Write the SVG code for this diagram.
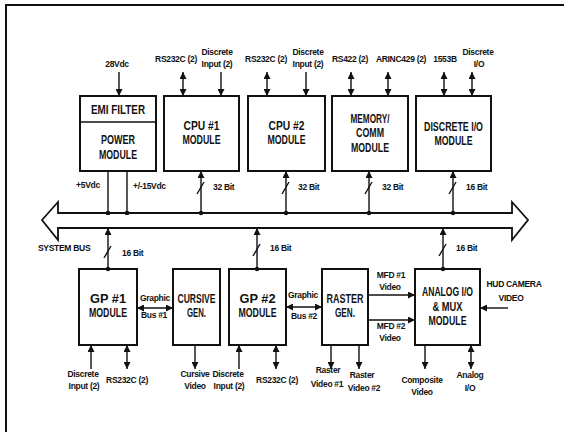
<svg xmlns="http://www.w3.org/2000/svg" width="564" height="432" viewBox="0 0 564 432">
<defs>
<marker id="ah" viewBox="0 0 8 8" refX="8" refY="4" markerWidth="7" markerHeight="7" markerUnits="userSpaceOnUse" orient="auto-start-reverse">
<path d="M0,0 L8,4 L0,8 z" fill="#111"/>
</marker>
<marker id="dot" viewBox="0 0 6 6" refX="3" refY="3" markerWidth="4.5" markerHeight="4.5" markerUnits="userSpaceOnUse">
<circle cx="3" cy="3" r="3" fill="#111"/>
</marker>
<style>
.box{fill:#fff;stroke:#111;stroke-width:2}
.ln{fill:none;stroke:#111;stroke-width:1.4}
.a{marker-end:url(#ah)}
.b{marker-start:url(#ah);marker-end:url(#ah)}
.d{marker-end:url(#dot)}
text{font-family:"Liberation Sans Narrow","Arial Narrow","Liberation Sans",sans-serif;font-weight:bold;fill:#111}
.t{font-size:12.5px;text-anchor:middle}
.s{font-size:8.5px;text-anchor:middle;letter-spacing:-0.3px}
.sl{font-size:8.5px;letter-spacing:-0.3px}
</style>
</defs>
<rect width="564" height="432" fill="#fff"/>
<path d="M6,432 V5 H564" fill="none" stroke="#111" stroke-width="2"/>

<g id="system-bus">
<polygon points="42,220 58,202 58,213 512,213 512,202 528,220 512,240 512,228 58,228 58,240" fill="#fff" stroke="#111" stroke-width="1.8"/>
<text class="sl" x="38" y="251">SYSTEM BUS</text>
</g>

<g id="power-module">
<rect class="box" x="80" y="96" width="76" height="75"/>
<line x1="80" y1="122" x2="156" y2="122" stroke="#111" stroke-width="1.5"/>
<text class="t" x="118" y="114" textLength="54" lengthAdjust="spacingAndGlyphs">EMI FILTER</text>
<text class="t" x="118" y="144" textLength="34" lengthAdjust="spacingAndGlyphs">POWER</text>
<text class="t" x="118" y="159" textLength="38" lengthAdjust="spacingAndGlyphs">MODULE</text>
</g>
<g id="cpu1">
<rect class="box" x="164" y="96" width="75" height="75"/>
<text class="t" x="201.5" y="130" textLength="36" lengthAdjust="spacingAndGlyphs">CPU #1</text>
<text class="t" x="201.5" y="144" textLength="38" lengthAdjust="spacingAndGlyphs">MODULE</text>
</g>
<g id="cpu2">
<rect class="box" x="248" y="96" width="77" height="75"/>
<text class="t" x="286.5" y="130" textLength="36" lengthAdjust="spacingAndGlyphs">CPU #2</text>
<text class="t" x="286.5" y="144" textLength="38" lengthAdjust="spacingAndGlyphs">MODULE</text>
</g>
<g id="memory-comm">
<rect class="box" x="332" y="96" width="76" height="75"/>
<text class="t" x="370" y="123" textLength="39" lengthAdjust="spacingAndGlyphs">MEMORY/</text>
<text class="t" x="370" y="137" textLength="28" lengthAdjust="spacingAndGlyphs">COMM</text>
<text class="t" x="370" y="152" textLength="38" lengthAdjust="spacingAndGlyphs">MODULE</text>
</g>
<g id="discrete-io">
<rect class="box" x="416" y="96" width="75" height="75"/>
<text class="t" x="453.5" y="131" textLength="59" lengthAdjust="spacingAndGlyphs">DISCRETE I/O</text>
<text class="t" x="453.5" y="145" textLength="38" lengthAdjust="spacingAndGlyphs">MODULE</text>
</g>

<g id="gp1">
<rect class="box" x="79" y="269" width="58" height="76"/>
<text class="t" x="108" y="303" textLength="36" lengthAdjust="spacingAndGlyphs">GP #1</text>
<text class="t" x="108" y="317" textLength="38" lengthAdjust="spacingAndGlyphs">MODULE</text>
</g>
<g id="cursive-gen">
<rect class="box" x="173" y="269" width="47" height="76"/>
<text class="t" x="196.5" y="303" textLength="38" lengthAdjust="spacingAndGlyphs">CURSIVE</text>
<text class="t" x="196.5" y="317" textLength="19" lengthAdjust="spacingAndGlyphs">GEN.</text>
</g>
<g id="gp2">
<rect class="box" x="229" y="269" width="57" height="76"/>
<text class="t" x="257.5" y="303" textLength="36" lengthAdjust="spacingAndGlyphs">GP #2</text>
<text class="t" x="257.5" y="317" textLength="38" lengthAdjust="spacingAndGlyphs">MODULE</text>
</g>
<g id="raster-gen">
<rect class="box" x="322" y="269" width="46" height="76"/>
<text class="t" x="345" y="303" textLength="37" lengthAdjust="spacingAndGlyphs">RASTER</text>
<text class="t" x="345" y="317" textLength="20" lengthAdjust="spacingAndGlyphs">GEN.</text>
</g>
<g id="analog-io-mux">
<rect class="box" x="415" y="269" width="65" height="76"/>
<text class="t" x="447.5" y="296" style="font-size:12px" textLength="51" lengthAdjust="spacingAndGlyphs">ANALOG I/O</text>
<text class="t" x="447.5" y="311" textLength="30" lengthAdjust="spacingAndGlyphs">&amp; MUX</text>
<text class="t" x="447.5" y="325" textLength="38" lengthAdjust="spacingAndGlyphs">MODULE</text>
</g>

<g id="connectors">
<line class="ln a" x1="119" y1="72" x2="119" y2="96"/>
<line class="ln b" x1="183" y1="72" x2="183" y2="96"/>
<line class="ln a" x1="221" y1="72" x2="221" y2="96"/>
<line class="ln b" x1="267" y1="72" x2="267" y2="96"/>
<line class="ln a" x1="306" y1="72" x2="306" y2="96"/>
<line class="ln b" x1="351" y1="72" x2="351" y2="96"/>
<line class="ln b" x1="388" y1="72" x2="388" y2="96"/>
<line class="ln b" x1="444" y1="72" x2="444" y2="96"/>
<line class="ln b" x1="472" y1="72" x2="472" y2="96"/>
<line class="ln d" x1="108" y1="171" x2="108" y2="213"/>
<line class="ln d" x1="127" y1="171" x2="127" y2="213"/>
<line class="ln a" x1="201" y1="213" x2="201" y2="171"/>
<line class="ln a" x1="286" y1="213" x2="286" y2="171"/>
<line class="ln a" x1="369" y1="213" x2="369" y2="171"/>
<line class="ln a" x1="453" y1="213" x2="453" y2="171"/>
<g fill="#111">
<circle cx="201" cy="213" r="2.2"/><circle cx="286" cy="213" r="2.2"/><circle cx="369" cy="213" r="2.2"/><circle cx="453" cy="213" r="2.2"/>
<circle cx="108" cy="269" r="2.2"/><circle cx="257" cy="269" r="2.2"/><circle cx="443" cy="269" r="2.2"/>
</g>
<line class="ln a" x1="108" y1="269" x2="108" y2="228"/>
<line class="ln a" x1="257" y1="269" x2="257" y2="228"/>
<line class="ln a" x1="443" y1="269" x2="443" y2="228"/>
<g class="ln">
<line x1="197" y1="194" x2="204" y2="182"/>
<line x1="282" y1="194" x2="289" y2="182"/>
<line x1="365" y1="194" x2="372" y2="182"/>
<line x1="449" y1="194" x2="456" y2="182"/>
<line x1="104" y1="258" x2="111" y2="246"/>
<line x1="253" y1="256" x2="260" y2="244"/>
<line x1="439" y1="256" x2="446" y2="244"/>
</g>
<line class="ln b" x1="137" y1="308" x2="173" y2="308"/>
<line class="ln b" x1="286" y1="307" x2="322" y2="307"/>
<line class="ln a" x1="368" y1="295" x2="415" y2="295"/>
<line class="ln a" x1="368" y1="320" x2="415" y2="320"/>
<line class="ln a" x1="508" y1="308" x2="480" y2="308"/>
<line class="ln a" x1="91" y1="369" x2="91" y2="345"/>
<line class="ln b" x1="127" y1="345" x2="127" y2="369"/>
<line class="ln a" x1="195" y1="345" x2="195" y2="369"/>
<line class="ln a" x1="239" y1="369" x2="239" y2="345"/>
<line class="ln b" x1="276" y1="345" x2="276" y2="369"/>
<line class="ln a" x1="331" y1="345" x2="331" y2="369"/>
<line class="ln a" x1="359" y1="345" x2="359" y2="369"/>
<line class="ln a" x1="425" y1="345" x2="425" y2="369"/>
<line class="ln b" x1="471" y1="345" x2="471" y2="369"/>
</g>

<g id="labels">
<text class="s" x="117" y="67">28Vdc</text>
<text class="s" x="176" y="62">RS232C (2)</text>
<text class="s" x="217" y="55">Discrete</text>
<text class="s" x="217" y="67">Input (2)</text>
<text class="s" x="266" y="62">RS232C (2)</text>
<text class="s" x="308" y="55">Discrete</text>
<text class="s" x="308" y="67">Input (2)</text>
<text class="s" x="350" y="62">RS422 (2)</text>
<text class="s" x="401" y="62">ARINC429 (2)</text>
<text class="s" x="445" y="62">1553B</text>
<text class="s" x="478" y="55">Discrete</text>
<text class="s" x="479" y="67">I/O</text>

<text class="s" x="88" y="188">+5Vdc</text>
<text class="sl" x="133" y="189">+/-15Vdc</text>
<text class="sl" x="213" y="190">32 Bit</text>
<text class="sl" x="298" y="190">32 Bit</text>
<text class="sl" x="382" y="190">32 Bit</text>
<text class="sl" x="466" y="190">16 Bit</text>
<text class="sl" x="122" y="256">16 Bit</text>
<text class="sl" x="270" y="251">16 Bit</text>
<text class="sl" x="456" y="251">16 Bit</text>

<text class="s" x="155" y="301">Graphic</text>
<text class="s" x="154" y="318">Bus #1</text>
<text class="s" x="303" y="298">Graphic</text>
<text class="s" x="304" y="319">Bus #2</text>
<text class="s" x="391" y="278">MFD #1</text>
<text class="s" x="390" y="290">Video</text>
<text class="s" x="391" y="329">MFD #2</text>
<text class="s" x="390" y="341">Video</text>
<text class="s" x="514" y="287">HUD CAMERA</text>
<text class="s" x="511" y="301">VIDEO</text>

<text class="s" x="83" y="377">Discrete</text>
<text class="s" x="84" y="389">Input (2)</text>
<text class="s" x="127" y="383">RS232C (2)</text>
<text class="s" x="195" y="377">Cursive</text>
<text class="s" x="195" y="389">Video</text>
<text class="s" x="228" y="377">Discrete</text>
<text class="s" x="229" y="389">Input (2)</text>
<text class="s" x="277" y="383">RS232C (2)</text>
<text class="s" x="328" y="373">Raster</text>
<text class="s" x="327" y="387">Video #1</text>
<text class="s" x="362" y="378">Raster</text>
<text class="s" x="364" y="391">Video #2</text>
<text class="s" x="422" y="383">Composite</text>
<text class="s" x="422" y="395">Video</text>
<text class="s" x="470" y="378">Analog</text>
<text class="s" x="470" y="391">I/O</text>
</g>
</svg>
